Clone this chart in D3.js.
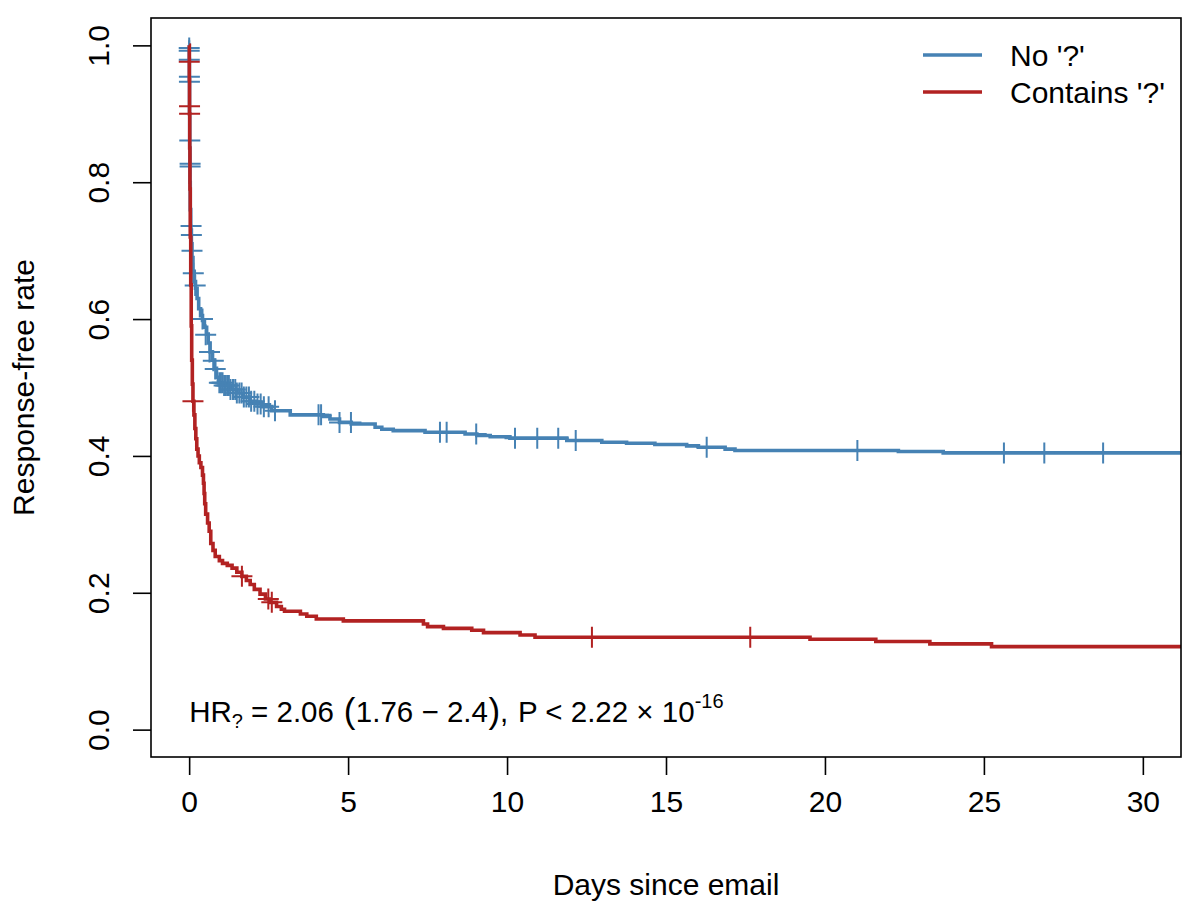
<!DOCTYPE html>
<html>
<head>
<meta charset="utf-8">
<script src="https://cdn.jsdelivr.net/npm/d3@7"></script>
<style>
  html, body { margin: 0; padding: 0; background: #fff; }
  svg { display: block; }
  text { font-family: "Liberation Sans", Arial, Helvetica, sans-serif; fill: #000; }
</style>
</head>
<body>
<svg id="chart" width="1200" height="923"></svg>
<script>
// ---------------- DATA ----------------
const seriesNames = ["No '?'", "Contains '?'"];
const seriesColors = ["#4682B4", "#B22222"];

// Group 1: No '?'  (Kaplan-Meier step curve)
const blueTimes = [0, 0.004, 0.008, 0.012, 0.018, 0.025, 0.035, 0.05, 0.07, 0.09, 0.12, 0.16, 0.2, 0.25, 0.3, 0.36, 0.42, 0.48, 0.55, 0.6, 0.66, 0.72, 0.8, 0.86, 0.92, 1.1, 1.3, 1.5, 1.7, 1.9, 2.1, 2.3, 2.6, 3.18, 4.22, 4.43, 4.73, 5.1, 5.85, 6.06, 6.42, 7.42, 8.68, 9.05, 9.47, 10.09, 11.88, 12.98, 13.76, 14.65, 15.65, 16.02, 16.86, 17.17, 22.31, 23.72, 31.5];
const blueSurv  = [1.0, 0.98, 0.95, 0.9, 0.85, 0.8, 0.76, 0.73, 0.71, 0.69, 0.67, 0.655, 0.645, 0.63, 0.615, 0.605, 0.598, 0.588, 0.578, 0.565, 0.552, 0.54, 0.528, 0.515, 0.507, 0.503, 0.497, 0.492, 0.486, 0.48, 0.476, 0.472, 0.466, 0.46, 0.4576, 0.454, 0.449, 0.4466, 0.442, 0.439, 0.437, 0.4347, 0.432, 0.4298, 0.428, 0.426, 0.4225, 0.42, 0.4186, 0.4167, 0.4147, 0.4127, 0.41, 0.408, 0.4064, 0.4044, 0.4044];
// censor marks on the near-vertical start: [time, survival]
const blueCensorEarly = [[0.002, 0.996], [0.002, 0.992], [0.004, 0.979], [0.008, 0.954], [0.009, 0.947], [0.02, 0.861], [0.03, 0.827], [0.03, 0.823], [0.06, 0.736], [0.07, 0.723], [0.09, 0.70], [0.13, 0.667], [0.19, 0.649], [0.42, 0.60], [0.52, 0.577], [0.64, 0.552], [0.76, 0.539], [0.82, 0.527]];
// censor times later on (survival)
const blueCensorTimes = [0.95, 1.0, 1.05, 1.1, 1.15, 1.2, 1.25, 1.3, 1.38, 1.45, 1.5, 1.58, 1.65, 1.72, 1.8, 1.88, 1.95, 2.05, 2.15, 2.25, 2.35, 2.5, 2.7, 4.07, 4.15, 4.73, 5.09, 7.89, 8.1, 9.03, 10.25, 10.95, 11.61, 12.16, 16.28, 21.02, 25.63, 26.9, 28.75];

// Group 2: Contains '?'
const redTimes = [0, 0.006, 0.012, 0.018, 0.025, 0.035, 0.05, 0.065, 0.08, 0.1, 0.12, 0.15, 0.18, 0.21, 0.24, 0.28, 0.32, 0.37, 0.42, 0.45, 0.47, 0.49, 0.52, 0.58, 0.63, 0.68, 0.75, 0.82, 0.95, 1.05, 1.2, 1.35, 1.5, 1.66, 1.8, 1.92, 2.05, 2.23, 2.4, 2.55, 2.75, 2.9, 3.0, 3.5, 3.7, 4.0, 4.85, 7.37, 7.5, 8.0, 8.89, 9.26, 10.41, 10.88, 19.53, 21.6, 23.3, 25.24, 31.5];
const redSurv  = [1.0, 0.95, 0.9, 0.85, 0.79, 0.72, 0.65, 0.59, 0.54, 0.505, 0.48, 0.46, 0.44, 0.425, 0.41, 0.40, 0.39, 0.383, 0.372, 0.36, 0.345, 0.33, 0.315, 0.302, 0.29, 0.272, 0.262, 0.253, 0.247, 0.243, 0.24, 0.236, 0.23, 0.224, 0.218, 0.212, 0.205, 0.198, 0.191, 0.186, 0.18, 0.176, 0.173, 0.169, 0.1657, 0.1617, 0.1589, 0.1544, 0.1506, 0.148, 0.1452, 0.1418, 0.1384, 0.135, 0.132, 0.1287, 0.1253, 0.1213, 0.1213];
const redCensorEarly = [[0.004, 0.976], [0.012, 0.911], [0.014, 0.900], [0.12, 0.48]];
const redCensorTimes = [1.66, 2.49, 2.6, 12.67, 17.65];

const xTicks = [0, 5, 10, 15, 20, 25, 30];
const yTicks = [0, 0.2, 0.4, 0.6, 0.8, 1.0];
const xLabel = "Days since email";
const yLabel = "Response-free rate";

// ---------------- LAYOUT ----------------
const box = { left: 151, top: 18, right: 1181, bottom: 757 };
const svg = d3.select("#chart");

const x = d3.scaleLinear().domain([-1.2, 31.2]).range([box.left, box.right]);
const y = d3.scaleLinear().domain([-0.04, 1.04]).range([box.bottom, box.top]);

svg.append("defs").append("clipPath").attr("id", "plotclip")
  .append("rect")
  .attr("x", box.left).attr("y", box.top)
  .attr("width", box.right - box.left).attr("height", box.bottom - box.top);

function survAt(times, surv, t) {
  const i = d3.bisectRight(times, t) - 1;
  return surv[Math.max(0, i)];
}

const line = d3.line()
  .x(d => x(d[0])).y(d => y(d[1]))
  .curve(d3.curveStepAfter);

const groups = [
  { times: blueTimes, surv: blueSurv, early: blueCensorEarly, ctimes: blueCensorTimes, color: seriesColors[0] },
  { times: redTimes, surv: redSurv, early: redCensorEarly, ctimes: redCensorTimes, color: seriesColors[1] }
];

const plotG = svg.append("g").attr("clip-path", "url(#plotclip)");

groups.forEach(g => {
  const pts = d3.zip(g.times, g.surv);
  plotG.append("path")
    .datum(pts)
    .attr("d", line)
    .attr("fill", "none")
    .attr("stroke", g.color)
    .attr("stroke-width", 3.6)
    .attr("stroke-linejoin", "miter");

  const marks = g.early.concat(g.ctimes.map(t => [t, survAt(g.times, g.surv, t)]));
  const h = 10.5;
  plotG.selectAll(null)
    .data(marks)
    .enter().append("path")
    .attr("d", d => `M${x(d[0]) - h},${y(d[1])}h${2 * h}M${x(d[0])},${y(d[1]) - h}v${2 * h}`)
    .attr("stroke", g.color)
    .attr("stroke-width", 2)
    .attr("fill", "none");
});

// Box
svg.append("rect")
  .attr("x", box.left).attr("y", box.top)
  .attr("width", box.right - box.left).attr("height", box.bottom - box.top)
  .attr("fill", "none").attr("stroke", "#000").attr("stroke-width", 1.6);

// X axis
const xAxis = svg.append("g")
  .attr("transform", `translate(0,${box.bottom})`)
  .call(d3.axisBottom(x).tickValues(xTicks).tickSize(18).tickFormat(d3.format("d")));
xAxis.select(".domain").remove();
xAxis.selectAll(".tick line").attr("stroke", "#000").attr("stroke-width", 1.6);
xAxis.selectAll(".tick text")
  .attr("y", 55).attr("dy", 0)
  .attr("font-size", 30)
  .attr("font-family", "'Liberation Sans', Arial, Helvetica, sans-serif")
  .attr("fill", "#000");

// Y axis
const yAxis = svg.append("g")
  .attr("transform", `translate(${box.left},0)`)
  .call(d3.axisLeft(y).tickValues(yTicks).tickSize(18).tickFormat(d3.format(".1f")));
yAxis.select(".domain").remove();
yAxis.selectAll(".tick line").attr("stroke", "#000").attr("stroke-width", 1.6);
yAxis.selectAll(".tick text")
  .attr("x", 0).attr("dy", 0)
  .attr("text-anchor", "middle")
  .attr("transform", "translate(-42,0) rotate(-90)")
  .attr("font-size", 30)
  .attr("font-family", "'Liberation Sans', Arial, Helvetica, sans-serif")
  .attr("fill", "#000");

// Axis titles
svg.append("text")
  .attr("x", (box.left + box.right) / 2).attr("y", 895)
  .attr("text-anchor", "middle").attr("font-size", 30)
  .text(xLabel);
svg.append("text")
  .attr("transform", `translate(34,${(box.top + box.bottom) / 2}) rotate(-90)`)
  .attr("text-anchor", "middle").attr("font-size", 30)
  .text(yLabel);

// Legend
const legend = svg.append("g");
seriesNames.forEach((name, i) => {
  const ly = 55 + i * 37;
  legend.append("line")
    .attr("x1", 923).attr("x2", 982).attr("y1", ly).attr("y2", ly)
    .attr("stroke", seriesColors[i]).attr("stroke-width", 3.6);
  legend.append("text")
    .attr("x", 1010).attr("y", ly + 11)
    .attr("font-size", 30)
    .text(name);
});

// Annotation (plotmath-like, flowing tspans)
const annPieces = [
  { t: "HR", size: 29.5, dx: 0, dy: 0 },
  { t: "?", size: 20, dx: 0, dy: 6 },
  { t: " =", size: 29.5, dx: 0, dy: -6 },
  { t: " 2.06", size: 29.5, dx: 0, dy: 0 },
  { t: " (", size: 35, dx: 0, dy: 1 },
  { t: "1.76", size: 29.5, dx: 0.5, dy: -1 },
  { t: " \u2212", size: 29.5, dx: 0, dy: 0 },
  { t: " 2.4", size: 29.5, dx: 0, dy: 0 },
  { t: ")", size: 35, dx: 0.5, dy: 1 },
  { t: ",", size: 29.5, dx: 0, dy: -1 },
  { t: " P", size: 29.5, dx: 1.5, dy: 0 },
  { t: " <", size: 29.5, dx: 0, dy: 0 },
  { t: " 2.22", size: 29.5, dx: 0, dy: 0 },
  { t: " \u00D7", size: 29.5, dx: 0, dy: 0 },
  { t: " 10", size: 29.5, dx: 0, dy: 0 },
  { t: "-16", size: 20, dx: 0, dy: -14 }
];
const ann = svg.append("text")
  .attr("x", x(0)).attr("y", 722)
  .attr("xml:space", "preserve")
  .style("white-space", "pre");
ann.selectAll("tspan")
  .data(annPieces)
  .enter().append("tspan")
  .attr("font-size", d => d.size)
  .attr("dx", d => d.dx)
  .attr("dy", d => d.dy)
  .text(d => d.t);
</script>
</body>
</html>
